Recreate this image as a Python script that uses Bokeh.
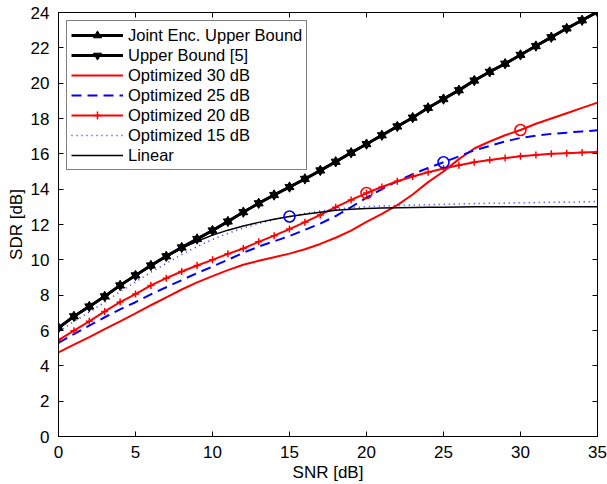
from bokeh.plotting import figure
from bokeh.models import Range1d, LinearAxis, SingleIntervalTicker, Legend, LegendItem
from bokeh.embed import file_html
from bokeh.resources import INLINE

snr = list(range(0, 36))
ub_joint = [6.15, 6.8, 7.36, 7.93, 8.55, 9.12, 9.68, 10.2, 10.7, 11.18, 11.66, 12.17,
            12.7, 13.2, 13.67, 14.12, 14.58, 15.06, 15.55, 16.06, 16.55, 17.05, 17.55, 18.05,
            18.6, 19.1, 19.6, 20.15, 20.64, 21.1, 21.6, 22.1, 22.6, 23.1, 23.56, 24.03]
ub_ref = [6.15, 6.8, 7.36, 7.93, 8.55, 9.12, 9.68, 10.2, 10.7, 11.18, 11.66, 12.17,
          12.7, 13.2, 13.67, 14.12, 14.58, 15.06, 15.55, 16.06, 16.55, 17.05, 17.55, 18.05,
          18.6, 19.1, 19.6, 20.15, 20.64, 21.1, 21.6, 22.1, 22.6, 23.1, 23.56, 24.03]
opt30 = [4.76, 5.2, 5.62, 6.08, 6.52, 6.97, 7.43, 7.88, 8.32, 8.72, 9.08, 9.42,
         9.72, 9.95, 10.15, 10.35, 10.6, 10.9, 11.25, 11.65, 12.15, 12.6, 13.1, 13.7,
         14.4, 15.0, 15.7, 16.3, 16.7, 17.05, 17.35, 17.7, 18.0, 18.3, 18.6, 18.9]
opt25 = [5.3, 5.8, 6.28, 6.75, 7.2, 7.6, 8.05, 8.45, 8.85, 9.25, 9.62, 10.0,
         10.4, 10.75, 11.05, 11.35, 11.7, 12.05, 12.48, 12.98, 13.52, 14.0, 14.45, 14.85,
         15.2, 15.52, 15.85, 16.2, 16.45, 16.7, 16.9, 17.03, 17.13, 17.2, 17.27, 17.33]
opt20 = [5.45, 5.99, 6.52, 7.08, 7.61, 8.06, 8.55, 8.96, 9.34, 9.68, 10.0, 10.34,
         10.64, 11.02, 11.37, 11.74, 12.13, 12.54, 12.98, 13.39, 13.78, 14.12, 14.45, 14.72,
         14.96, 15.17, 15.35, 15.52, 15.65, 15.76, 15.86, 15.94, 16.0, 16.04, 16.07, 16.1]
opt15 = [5.95, 6.5, 7.05, 7.6, 8.2, 8.75, 9.3, 9.8, 10.3, 10.75, 11.15, 11.5,
         11.8, 12.05, 12.28, 12.45, 12.62, 12.76, 12.87, 12.95, 13.01, 13.05, 13.08, 13.1,
         13.12, 13.14, 13.16, 13.18, 13.2, 13.21, 13.23, 13.24, 13.26, 13.27, 13.28, 13.3]
linear = [6.15, 6.8, 7.36, 7.93, 8.55, 9.12, 9.68, 10.2, 10.65, 11.05, 11.4, 11.68,
          11.92, 12.12, 12.3, 12.45, 12.58, 12.7, 12.8, 12.86, 12.9, 12.93, 12.95, 12.96,
          12.97, 12.98, 12.99, 13.0, 13.0, 13.0, 13.0, 13.0, 13.0, 13.0, 13.0, 13.0]
design_snr = [15, 20, 25, 30]
design_series = [opt15, opt20, opt25, opt30]
design_colors = ["#0000ff", "#ff0000", "#0000ff", "#ff0000"]
x_ticks_step = 5
y_ticks_step = 2

FONT = "Liberation Sans"

p = figure(width=607, height=484, output_backend="svg", toolbar_location=None,
           x_range=Range1d(0, 35), y_range=Range1d(0, 24),
           min_border_left=58, min_border_right=10, min_border_top=12, min_border_bottom=47)
p.background_fill_color = "white"
p.border_fill_color = "white"
p.outline_line_color = "black"
p.outline_line_width = 1
p.grid.visible = False

for ax in (p.xaxis[0], p.yaxis[0]):
    ax.major_tick_in = 5
    ax.major_tick_out = 0
    ax.minor_tick_line_color = None
    ax.axis_line_color = "black"
    ax.major_tick_line_color = "black"
    ax.major_label_text_font = FONT
    ax.major_label_text_font_size = "17px"
    ax.major_label_text_color = "black"
    ax.axis_label_text_font = FONT
    ax.axis_label_text_font_size = "17px"
    ax.axis_label_text_font_style = "normal"
    ax.axis_label_text_color = "black"
p.xaxis[0].ticker = SingleIntervalTicker(interval=x_ticks_step)
p.yaxis[0].ticker = SingleIntervalTicker(interval=y_ticks_step)
p.xaxis[0].axis_label = "SNR [dB]"
p.yaxis[0].axis_label = "SDR [dB]"
p.xaxis[0].major_label_standoff = 5
p.yaxis[0].major_label_standoff = 5
p.xaxis[0].axis_label_standoff = 2
p.yaxis[0].axis_label_standoff = 2

top = LinearAxis(ticker=SingleIntervalTicker(interval=x_ticks_step))
right = LinearAxis(ticker=SingleIntervalTicker(interval=y_ticks_step))
for ax in (top, right):
    ax.major_tick_in = 5
    ax.major_tick_out = 0
    ax.minor_tick_line_color = None
    ax.major_label_text_font_size = "1px"
    ax.major_label_text_color = None
    ax.major_label_standoff = 0
    ax.axis_line_color = "black"
p.add_layout(top, "above")
p.add_layout(right, "right")

r_ub1 = p.line(snr, ub_joint, line_color="black", line_width=2.8)
m_ub1 = p.scatter(snr, ub_joint, marker="triangle", size=9, fill_color="black", line_color="black")
r_ub2 = p.line(snr, ub_ref, line_color="black", line_width=2.8)
m_ub2 = p.scatter(snr, ub_ref, marker="inverted_triangle", size=9, fill_color="black", line_color="black")
r30 = p.line(snr, opt30, line_color="#ff0000", line_width=2)
r25 = p.line(snr, opt25, line_color="#0000ff", line_width=2, line_dash="10 6")
r20 = p.line(snr, opt20, line_color="#ff0000", line_width=2)
m20 = p.scatter(snr, opt20, marker="cross", size=7, line_color="#ff0000", line_width=1.5)
r15 = p.line(snr, opt15, line_color="#2a2aff", line_width=1.6, line_dash="1 4")
rlin = p.line(snr, linear, line_color="black", line_width=1.5)

cx = design_snr
cy = [s[x] for s, x in zip(design_series, design_snr)]
p.scatter(cx, cy, marker="circle", size=11, fill_color=None, line_color=design_colors, line_width=1.6)

legend = Legend(items=[
    LegendItem(label="Joint Enc. Upper Bound", renderers=[r_ub1, m_ub1]),
    LegendItem(label="Upper Bound [5]", renderers=[r_ub2, m_ub2]),
    LegendItem(label="Optimized 30 dB", renderers=[r30]),
    LegendItem(label="Optimized 25 dB", renderers=[r25]),
    LegendItem(label="Optimized 20 dB", renderers=[r20, m20]),
    LegendItem(label="Optimized 15 dB", renderers=[r15]),
    LegendItem(label="Linear", renderers=[rlin]),
], location="top_left")
legend.label_text_font = FONT
legend.label_text_font_size = "16.5px"
legend.label_text_color = "black"
legend.border_line_color = "black"
legend.border_line_width = 1
legend.background_fill_color = "white"
legend.background_fill_alpha = 1
legend.padding = 4
legend.spacing = 0
legend.margin = 8
legend.glyph_width = 52
legend.glyph_height = 20
legend.label_height = 20
legend.label_standoff = 5
p.add_layout(legend, "center")

open("out.html", "w").write(file_html(p, INLINE))
